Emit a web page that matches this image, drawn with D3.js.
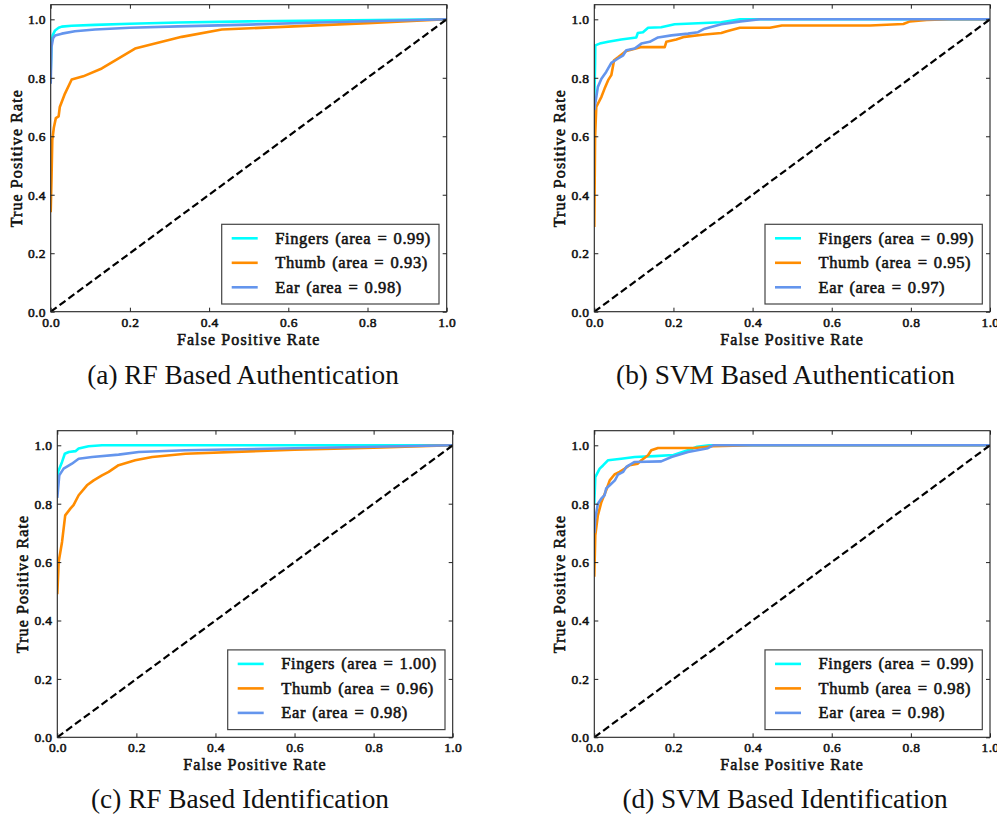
<!DOCTYPE html>
<html>
<head>
<meta charset="utf-8">
<script src="https://cdn.jsdelivr.net/npm/d3@7"></script>
<style>
  html, body { margin: 0; padding: 0; background: #fff; }
  svg text { font-family: "Liberation Serif", serif; }
</style>
</head>
<body>
<svg id="chart" width="997" height="816"></svg>
<script>
// ---------- DATA ----------
const seriesNames = ["Fingers", "Thumb", "Ear"];
const xTicks = [0, 0.2, 0.4, 0.6, 0.8, 1.0];
const yTicks = [0, 0.2, 0.4, 0.6, 0.8, 1.0];
const captions = ["(a) RF Based Authentication", "(b) SVM Based Authentication",
                  "(c) RF Based Identification", "(d) SVM Based Identification"];
const areasRfAuth = ["0.99", "0.93", "0.98"];
const areasSvmAuth = ["0.99", "0.95", "0.97"];
const areasRfId = ["1.00", "0.96", "0.98"];
const areasSvmId = ["0.99", "0.98", "0.98"];

// [fpr, tpr]
const rfAuthFingers = [[0,0.82],[0.002,0.92],[0.005,0.945],[0.011,0.962],[0.02,0.971],[0.028,0.975],[0.053,0.978],[0.112,0.981],[0.2,0.985],[0.322,0.989],[0.5,0.993],[0.7,0.996],[1,1]];
const rfAuthThumb = [[0,0.34],[0.002,0.45],[0.004,0.587],[0.008,0.63],[0.013,0.662],[0.02,0.668],[0.023,0.70],[0.036,0.746],[0.053,0.794],[0.082,0.805],[0.129,0.832],[0.213,0.90],[0.331,0.94],[0.432,0.965],[0.6,0.975],[0.8,0.987],[1,1]];
const rfAuthEar = [[0,0.78],[0.002,0.905],[0.006,0.935],[0.011,0.945],[0.028,0.951],[0.061,0.959],[0.112,0.965],[0.2,0.971],[0.322,0.976],[0.5,0.982],[0.7,0.99],[1,1]];

const svmAuthFingers = [[0,0.72],[0.002,0.85],[0.0025,0.911],[0.0136,0.917],[0.035,0.923],[0.068,0.931],[0.106,0.938],[0.110,0.953],[0.123,0.956],[0.136,0.971],[0.169,0.973],[0.203,0.983],[0.321,0.99],[0.368,1.0],[1,1]];
const svmAuthThumb = [[0,0.29],[0.002,0.598],[0.005,0.70],[0.018,0.735],[0.026,0.763],[0.035,0.792],[0.043,0.809],[0.05,0.86],[0.06,0.87],[0.081,0.892],[0.119,0.905],[0.178,0.905],[0.182,0.923],[0.207,0.931],[0.228,0.94],[0.279,0.948],[0.321,0.953],[0.335,0.959],[0.368,0.971],[0.444,0.971],[0.474,0.979],[0.697,0.979],[0.781,0.984],[0.798,0.993],[0.84,0.998],[0.9,1],[1,1]];
const svmAuthEar = [[0,0.69],[0.009,0.769],[0.018,0.797],[0.03,0.82],[0.043,0.851],[0.06,0.866],[0.073,0.877],[0.081,0.894],[0.102,0.90],[0.119,0.917],[0.14,0.923],[0.161,0.938],[0.195,0.945],[0.237,0.951],[0.262,0.956],[0.279,0.968],[0.321,0.983],[0.37,0.993],[0.419,1],[1,1]];

const rfIdFingers = [[0,0.84],[0.002,0.909],[0.012,0.943],[0.019,0.971],[0.029,0.977],[0.046,0.98],[0.054,0.989],[0.079,0.997],[0.113,1],[1,1]];
const rfIdThumb = [[0,0.49],[0.0035,0.601],[0.012,0.669],[0.02,0.76],[0.033,0.783],[0.041,0.795],[0.054,0.829],[0.075,0.863],[0.092,0.88],[0.113,0.897],[0.13,0.909],[0.155,0.932],[0.197,0.949],[0.24,0.96],[0.324,0.971],[0.6,0.985],[0.8,0.992],[1,1]];
const rfIdEar = [[0,0.82],[0.005,0.897],[0.016,0.92],[0.037,0.937],[0.054,0.954],[0.088,0.96],[0.155,0.968],[0.206,0.977],[0.324,0.983],[0.6,0.99],[0.8,0.995],[1,1]];

const svmIdFingers = [[0,0.80],[0.0025,0.891],[0.0136,0.92],[0.022,0.931],[0.035,0.949],[0.068,0.954],[0.102,0.96],[0.153,0.963],[0.2,0.967],[0.24,0.985],[0.26,0.995],[0.29,1],[1,1]];
const svmIdThumb = [[0,0.55],[0.0025,0.692],[0.009,0.76],[0.018,0.806],[0.03,0.846],[0.039,0.88],[0.051,0.90],[0.064,0.909],[0.077,0.92],[0.089,0.932],[0.11,0.937],[0.119,0.949],[0.136,0.966],[0.144,0.983],[0.161,0.991],[0.254,0.991],[0.3,0.997],[0.4,1],[1,1]];
const svmIdEar = [[0,0.70],[0.0025,0.749],[0.009,0.80],[0.018,0.818],[0.026,0.829],[0.03,0.852],[0.039,0.863],[0.052,0.88],[0.06,0.90],[0.073,0.909],[0.081,0.926],[0.102,0.943],[0.169,0.945],[0.195,0.96],[0.237,0.977],[0.287,0.99],[0.3,1.0],[1,1]];

const chanceLine = [[0,0],[1,1]];

// ---------- STYLE / LAYOUT ----------
const colors = ["#00FFFF", "#FF8C00", "#6495ED"];
const panels = [
  {box: [50.7, 446.7, 4.7, 311.7], series: [rfAuthFingers, rfAuthThumb, rfAuthEar], areas: areasRfAuth, cap: [243, 384]},
  {box: [594.3, 990, 4.7, 311.7], series: [svmAuthFingers, svmAuthThumb, svmAuthEar], areas: areasSvmAuth, cap: [785.5, 384]},
  {box: [57.3, 452.7, 430.7, 737.3], series: [rfIdFingers, rfIdThumb, rfIdEar], areas: areasRfId, cap: [240, 808]},
  {box: [594.3, 990, 430.7, 737.3], series: [svmIdFingers, svmIdThumb, svmIdEar], areas: areasSvmId, cap: [785, 808]}
];

// faux-bold serif (stroke-widened regular face)
function boldSerif(sel, size, ls) {
  sel.attr("font-family", "Liberation Serif, serif").attr("font-weight", "normal")
    .attr("font-size", size).attr("fill", "#111").attr("stroke", "#111")
    .attr("stroke-width", 0.55).attr("letter-spacing", ls);
}

const svg = d3.select("#chart");

panels.forEach((p, i) => {
  const [L, R, T, B] = p.box;
  const x = d3.scaleLinear().domain([0, 1]).range([L, R]);
  const y = d3.scaleLinear().domain([0, 1.05]).range([B, T]);
  const g = svg.append("g");

  const clipId = "clip" + i;
  g.append("clipPath").attr("id", clipId).append("rect")
    .attr("x", L).attr("y", T).attr("width", R - L).attr("height", B - T);

  const line = d3.line().x(d => x(d[0])).y(d => y(d[1]));
  const plot = g.append("g").attr("clip-path", `url(#${clipId})`);
  p.series.forEach((s, k) => {
    plot.append("path").datum(s).attr("d", line)
      .attr("fill", "none").attr("stroke", colors[k]).attr("stroke-width", 2.6)
      .attr("stroke-linejoin", "round");
  });
  plot.append("path").datum(chanceLine).attr("d", line)
    .attr("fill", "none").attr("stroke", "#000").attr("stroke-width", 2.2)
    .attr("stroke-dasharray", "7.4,3.6");

  // axes (ticks inside on all four sides)
  const fmt = d3.format(".1f");
  const tl = 4;
  g.append("g").attr("transform", `translate(0,${B})`)
    .call(d3.axisBottom(x).tickValues(xTicks).tickFormat(fmt).tickSizeInner(-tl).tickSizeOuter(0).tickPadding(5.3));
  g.append("g").attr("transform", `translate(0,${T})`)
    .call(d3.axisTop(x).tickValues(xTicks).tickFormat("").tickSizeInner(-tl).tickSizeOuter(0));
  g.append("g").attr("transform", `translate(${L},0)`)
    .call(d3.axisLeft(y).tickValues(yTicks).tickFormat(fmt).tickSizeInner(-tl).tickSizeOuter(0).tickPadding(5));
  g.append("g").attr("transform", `translate(${R},0)`)
    .call(d3.axisRight(y).tickValues(yTicks).tickFormat("").tickSizeInner(-tl).tickSizeOuter(0));
  g.selectAll(".domain").remove();
  g.selectAll(".tick line").attr("stroke", "#222").attr("stroke-width", 1);
  g.selectAll(".tick text").call(boldSerif, 13.5, 0.3);

  g.append("rect").attr("x", L).attr("y", T).attr("width", R - L).attr("height", B - T)
    .attr("fill", "none").attr("stroke", "#222").attr("stroke-width", 1.1);

  // axis labels
  g.append("text").attr("x", (L + R) / 2).attr("y", B + 33)
    .attr("text-anchor", "middle").call(boldSerif, 16, 1.1).text("False Positive Rate");
  g.append("text").attr("transform", `translate(${L - 29},${(T + B) / 2}) rotate(-90)`)
    .attr("text-anchor", "middle").call(boldSerif, 16, 1.1).text("True Positive Rate");

  // legend
  const lw = 217.3, lh = 79.7;
  const lx = R - 7.7 - lw, ly = B - 7.7 - lh;
  const leg = g.append("g");
  leg.append("rect").attr("x", lx).attr("y", ly).attr("width", lw).attr("height", lh)
    .attr("fill", "#fff").attr("stroke", "#444").attr("stroke-width", 1.2);
  seriesNames.forEach((n, k) => {
    const ry = ly + 14 + k * 24.5;
    leg.append("line").attr("x1", lx + 10).attr("x2", lx + 36).attr("y1", ry).attr("y2", ry)
      .attr("stroke", colors[k]).attr("stroke-width", 2.6);
    leg.append("text").attr("x", lx + 53.6).attr("y", ry + 5.5)
      .call(boldSerif, 16.5, 0.6).attr("word-spacing", 1.5)
      .text(`${n} (area = ${p.areas[k]})`);
  });

  // caption
  svg.append("text").attr("x", p.cap[0]).attr("y", p.cap[1]).attr("text-anchor", "middle")
    .attr("font-family", "Liberation Serif, serif")
    .attr("font-size", 27.3).attr("fill", "#111").text(captions[i]);
});
</script>
</body>
</html>
